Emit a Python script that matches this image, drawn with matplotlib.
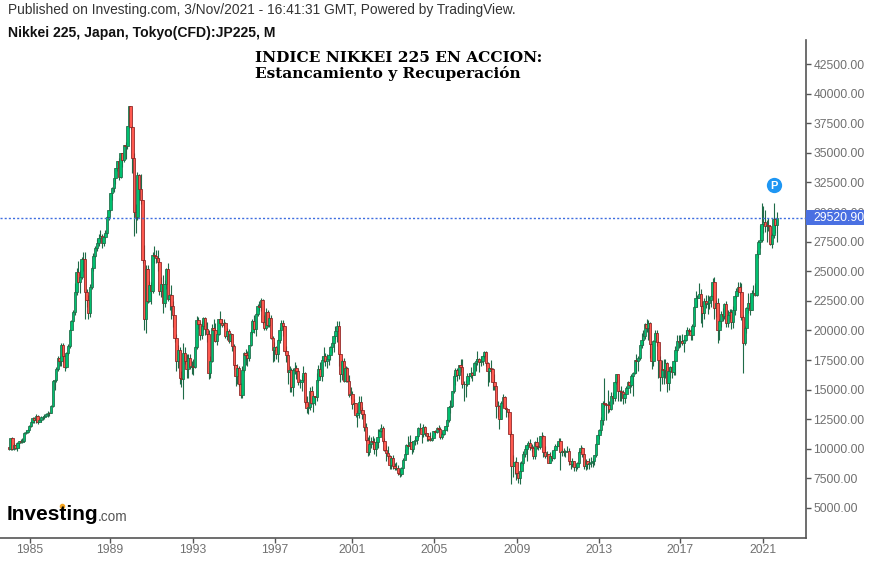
import matplotlib
matplotlib.use('Agg')
import matplotlib.pyplot as plt
from matplotlib.patches import Rectangle
from matplotlib.transforms import blended_transform_factory

# monthly candles, Jan 1984 to Nov 2021
opens = [
    10120,9950,10950,9950,10350,10050,10500,10650,10600,10650,11350,11450,
    11550,11930,12290,12570,12430,12800,12240,12450,12650,12700,12800,12950,
    13050,13020,13640,15750,15800,16750,17670,17400,18770,17850,16900,18050,
    18700,20030,20800,21550,23250,24950,24100,24480,26030,26010,23270,22570,
    21490,23690,25270,26300,27000,27420,27770,28000,27370,27920,28200,29580,
    30160,31580,31990,32840,33710,34270,32950,34950,34430,35640,35550,37270,
    38920,37190,34590,29980,29580,33130,31940,31040,25980,20980,25190,22450,
    23850,23290,26410,26290,26110,25790,23290,23900,22340,23920,25220,22690,
    22980,22020,21340,19350,17390,18350,15950,15910,18060,17400,16770,17680,
    16920,17020,16950,18590,20920,20550,19590,20380,21030,20110,19700,16410,
    17420,20230,20000,19110,19730,20970,20640,20450,20630,19560,19990,19080,
    19720,18650,17050,16140,16810,15440,14520,16680,18120,17910,17660,18740,
    19870,20810,20130,21410,22040,21960,22530,20690,20170,21560,20470,21020,
    19360,18330,18560,18000,19150,20070,20610,20330,18230,17890,16460,16640,
    15260,16630,16830,16530,15640,15670,15830,16380,13920,13410,13560,14880,
    13840,14500,14370,15840,16700,16110,17530,17860,17440,17610,17940,18560,
    18930,19540,19960,20340,17970,16330,17410,15730,16860,15750,14540,14650,
    13790,13840,12880,13000,13930,13260,12970,11860,10710,9770,10370,10700,
    10540,10000,10590,11020,11490,11760,10620,9880,9620,9380,8640,9220,
    8580,8340,8360,7970,7830,8420,9080,9560,10340,10220,10560,9990,
    10680,10780,11040,11720,11760,11240,11860,11330,11080,10820,10770,10900,
    11490,11390,11740,11670,11010,11280,11580,11900,12410,13570,13610,14870,
    16110,16650,16210,17060,16910,15470,15510,15460,16140,16130,16400,16270,
    17230,17380,17600,17290,17400,17880,18140,17250,16570,16790,16740,15680,
    15310,13590,13600,12530,13850,14340,13480,13380,13070,11260,8580,8510,
    8860,7990,7570,8110,8830,9520,9960,10360,10490,10130,10040,9350,
    10550,10200,10130,11090,11060,9770,9380,9540,8820,9370,9200,9940,
    10230,10240,10620,9760,9850,9690,9820,9830,8960,8700,8990,8430,
    8460,8800,9720,10080,9520,8540,9010,8700,8840,8870,8930,9450,
    10400,11140,11560,12400,13860,13770,13680,13670,13390,14460,14330,15660,
    16290,14910,14840,14830,14300,14630,15160,15620,15420,16170,16410,17460,
    17450,17670,18800,19210,19520,20560,20240,20590,18890,17390,19080,19750,
    19030,17520,16030,16760,16670,17240,15580,16570,16890,16450,17430,18310,
    19110,19040,19120,18910,19200,19650,20030,19930,19650,20360,22010,22730,
    22770,23100,22070,21450,22470,22200,22310,22550,22870,24120,21920,22350,
    20020,20770,21390,21210,22260,20600,21280,21520,20700,21760,22930,23290,
    23660,23210,21140,18920,20190,21880,22290,21710,23140,23190,22980,26430,
    27440,27660,28970,29180,28810,28860,28790,27280,28090,29450,28890,
]
closes = [
    10020,10900,9950,10350,10050,10500,10650,10600,10650,11350,11450,11550,
    11930,12290,12570,12430,12800,12240,12450,12650,12700,12800,12950,13050,
    13020,13640,15750,15800,16750,17670,17400,18770,17850,16900,18050,18700,
    20030,20800,21550,23250,24950,24100,24480,26030,26010,23270,22570,21490,
    23690,25270,26300,27000,27420,27770,28000,27370,27920,28200,29580,30160,
    31580,31990,32840,33710,34270,32950,34950,34430,35640,35550,37270,38920,
    37190,34590,29980,29580,33130,31940,31040,25980,20980,25190,22450,23850,
    23290,26410,26290,26110,25790,23290,23900,22340,23920,25220,22690,22980,
    22020,21340,19350,17390,18350,15950,15910,18060,17400,16770,17680,16920,
    17020,16950,18590,20920,20550,19590,20380,21030,20110,19700,16410,17420,
    20230,20000,19110,19730,20970,20640,20450,20630,19560,19990,19080,19720,
    18650,17050,16140,16810,15440,14520,16680,18120,17910,17660,18740,19870,
    20810,20130,21410,22040,21960,22530,20690,20170,21560,20470,21020,19360,
    18330,18560,18000,19150,20070,20610,20330,18230,17890,16460,16640,15260,
    16630,16830,16530,15640,15670,15830,16380,13920,13410,13560,14880,13840,
    14500,14370,15840,16700,16110,17530,17860,17440,17610,17940,18560,18930,
    19540,19960,20340,17970,16330,17410,15730,16860,15750,14540,14650,13790,
    13840,12880,13000,13930,13260,12970,11860,10710,9770,10370,10700,10540,
    10000,10590,11020,11490,11760,10620,9880,9620,9380,8640,9220,8580,
    8340,8360,7970,7830,8420,9080,9560,10340,10220,10560,9990,10680,
    10780,11040,11720,11760,11240,11860,11330,11080,10820,10770,10900,11490,
    11390,11740,11670,11010,11280,11580,11900,12410,13570,13610,14870,16110,
    16650,16210,17060,16910,15470,15510,15460,16140,16130,16400,16270,17230,
    17380,17600,17290,17400,17880,18140,17250,16570,16790,16740,15680,15310,
    13590,13600,12530,13850,14340,13480,13380,13070,11260,8580,8510,8860,
    7990,7570,8110,8830,9520,9960,10360,10490,10130,10040,9350,10550,
    10200,10130,11090,11060,9770,9380,9540,8820,9370,9200,9940,10230,
    10240,10620,9760,9850,9690,9820,9830,8960,8700,8990,8430,8460,
    8800,9720,10080,9520,8540,9010,8700,8840,8870,8930,9450,10400,
    11140,11560,12400,13860,13770,13680,13670,13390,14460,14330,15660,16290,
    14910,14840,14830,14300,14630,15160,15620,15420,16170,16410,17460,17450,
    17670,18800,19210,19520,20560,20240,20590,18890,17390,19080,19750,19030,
    17520,16030,16760,16670,17240,15580,16570,16890,16450,17430,18310,19110,
    19040,19120,18910,19200,19650,20030,19930,19650,20360,22010,22730,22770,
    23100,22070,21450,22470,22200,22310,22550,22870,24120,21920,22350,20020,
    20770,21390,21210,22260,20600,21280,21520,20700,21760,22930,23290,23660,
    23210,21140,18920,20190,21880,22290,21710,23140,23190,22980,26430,27440,
    27660,28970,29180,28810,28860,28790,27280,28090,29450,28890,29520,
]
highs = [
    10180,10950,11000,10450,10400,10600,10700,10800,10900,11400,11600,11650,
    12000,12350,12650,12700,12900,12850,12600,12780,12800,12900,13000,13200,
    13150,13700,15850,15900,16900,17800,17800,18900,18950,17900,18200,18850,
    20100,20900,21700,24000,25300,25900,25100,26200,26650,26650,23500,23000,
    23900,25400,26500,27100,27700,28100,28500,28100,28100,28500,29700,30200,
    31600,32100,32900,33750,34300,34600,35000,35000,35700,35900,37300,38960,
    38800,37300,35000,30700,33350,33200,33200,31000,27200,25500,25500,24200,
    24100,26650,27150,26800,26800,26100,24500,24700,24250,25300,25700,23100,
    23800,22500,21200,19700,18800,18600,16600,18900,18600,18000,18000,18000,
    17400,17600,18700,21200,21100,20600,20800,21150,21150,20700,20000,17800,
    20500,20950,20600,20000,21000,21600,21000,21000,20700,20200,20100,19800,
    19700,18850,17100,17200,17000,15550,17000,18200,18400,18300,18800,20020,
    20950,21300,21500,22200,22500,22750,22650,21300,21900,21700,21400,21300,
    19500,19000,18700,19300,20300,20900,20900,20400,18700,17900,17000,16800,
    16800,17300,17100,16700,15900,16200,17000,16500,14500,13900,15200,15300,
    14700,14500,16400,17100,17300,17800,18600,18100,18000,18000,18700,19000,
    19600,20400,20800,20800,18000,17600,17700,17000,16900,16200,15200,14900,
    14200,13900,13300,14500,14500,13500,13000,12200,11000,11200,11000,11100,
    10900,10700,11700,11700,12100,11900,10900,10300,10200,9500,9350,9450,
    8800,8900,8600,8300,8500,9200,10000,10400,11100,11200,10700,10700,
    11000,11100,11800,12200,11600,12100,11900,11300,11300,11400,11200,11500,
    11600,11800,12000,11800,11400,11700,11900,12500,13600,14100,14900,16400,
    16800,16800,17100,17600,17600,15700,15800,16400,16400,16900,16500,17300,
    17600,18300,17700,17800,17900,18300,18300,17300,16900,17500,16800,16300,
    15300,14000,13700,14000,14600,14500,13600,13400,13000,11500,9500,9000,
    9300,8000,8900,9000,9800,10200,10400,10700,10800,10400,10200,10700,
    10980,10300,11100,11400,11200,10250,9800,9600,9700,9800,10100,10400,
    10500,10900,10900,10000,10100,9900,10200,10100,9000,9200,9000,8700,
    8900,9900,10300,10150,9600,9100,9000,9250,9300,9200,9500,10450,
    11250,11700,12650,14000,15950,13900,14950,14000,14800,14800,15700,16350,
    16200,15000,15300,15000,14700,15300,15700,15800,16350,16500,17500,18000,
    17850,18800,19780,20000,20600,20950,20900,20700,18800,19200,20000,20000,
    19100,17800,17500,17600,17600,17300,16900,17000,17000,17500,18700,19600,
    19600,19600,19700,19300,20000,20300,20200,20100,20500,22100,23300,23000,
    24000,23500,22500,22700,23000,23000,22900,23000,24400,24500,22600,22700,
    21000,21600,21900,22350,22500,21700,21800,21800,22100,23000,23600,24100,
    24100,24000,21300,20400,22000,23200,22900,23400,23800,24000,26800,27600,
    28900,30800,30500,30200,29300,29500,28900,28200,30800,29500,30000,
]
lows = [
    9900,9900,9900,9900,9950,9800,10100,10500,10500,10600,11250,11300,
    11500,11800,12200,12200,12200,12100,12250,12300,12400,12500,12800,12700,
    12800,13000,13500,15000,15600,16600,17000,17000,17300,16600,16800,17900,
    18500,20000,20700,21300,23000,24000,23200,24300,25000,21000,22000,21000,
    21100,23500,25000,26200,26700,27100,27500,27000,27100,27800,28100,29300,
    30000,31000,31700,32400,33500,32700,32900,33800,34200,34500,35300,37100,
    37000,33300,28000,28200,29300,31000,30700,25700,20000,19800,22300,22400,
    22200,23200,25700,25700,25000,23000,22800,21500,22000,23500,22500,21700,
    21000,20300,19000,16600,16800,15500,15200,14200,17200,16000,16000,16700,
    16300,16200,16800,18400,20100,19200,19300,20000,19600,19000,15900,16000,
    17300,19100,19000,18800,19600,20300,20300,20300,19400,19200,18900,19000,
    18300,16700,15300,15500,15300,14300,14300,16500,17100,17000,17400,18700,
    19700,19800,19500,21200,21600,21600,20500,20000,20000,20300,20300,19300,
    17300,17400,17600,17300,18900,20100,19500,18100,17300,15500,14800,14800,
    14500,16300,15900,15400,15100,14900,15600,13800,13000,12900,13300,13800,
    13100,13700,14000,15600,16000,15700,17300,17000,16800,17100,17500,18100,
    18200,19300,19000,17000,15600,15800,15600,15600,15600,14400,14200,13400,
    13000,12700,11800,12600,13000,12500,11500,10700,9400,9500,10100,10000,
    9600,9400,10100,11000,11400,10500,9800,9000,9100,8300,8300,8300,
    8200,8200,7800,7600,7700,8400,9100,9500,10000,10000,9600,9700,
    10300,10400,10900,11600,10500,11000,11100,10700,10700,10700,10700,10900,
    11200,11300,11500,10800,10800,11200,11500,11500,12300,13000,13500,14700,
    15400,15700,15900,16500,15100,14000,14400,15300,15700,16000,15700,16200,
    16600,17100,16500,17000,17100,17700,17000,15300,15600,16400,15000,15000,
    12600,12700,11700,12500,13500,13400,12700,12700,11000,6990,7600,7900,
    7400,7100,7000,8000,8600,9300,9000,10100,9900,9700,9100,9100,
    10000,9900,10000,10800,9300,9200,9100,8800,8800,9000,9100,9900,
    10100,10200,8200,9400,9400,9300,9700,8600,8300,8500,8100,8100,
    8300,8700,9700,9300,8300,8200,8300,8300,8500,8500,8600,9300,
    10400,10800,11300,12000,13500,12400,13000,13100,13300,13800,14000,15500,
    14000,14000,14000,13800,13900,14700,15200,14700,15200,14500,16300,16400,
    16600,17500,18500,18800,19300,19900,19200,17700,16700,17000,19000,18700,
    16000,14900,15500,15500,16000,14800,15000,16000,16000,16200,16200,18200,
    18500,18600,18800,18200,19100,19600,19700,19200,19200,20300,22000,22000,
    22800,20600,20300,21000,21900,21400,21800,22000,22500,21000,21100,18900,
    19200,20300,20800,21000,20300,20300,21000,20100,20200,21300,22700,23000,
    23100,20900,16400,18800,19800,21500,21300,21700,22800,22900,22900,26100,
    27000,27500,28200,28300,27500,28400,27200,26950,27800,28200,27500,
]
# x is months counted from Jan 1985, first candle is Jan 1984
months = list(range(-12, len(closes) - 12))

year_ticks = [0.5, 47.8, 96.8, 145.3, 190.8, 239.3, 288.3, 336.8, 384.7, 433.8]
year_labels = ['1985', '1989', '1993', '1997', '2001', '2005', '2009', '2013', '2017', '2021']
price_ticks = [5000, 7500, 10000, 12500, 15000, 17500, 20000, 22500, 25000, 27500,
               30000, 32500, 35000, 37500, 40000, 42500]
last_price = 29520.90

UP = '#00c070'
DOWN = '#ff5a50'
UP_EDGE = '#1f6b48'
DOWN_EDGE = '#8a2020'
AXIS = '#555555'
TICK_TEXT = '#707070'
BLUE = '#3f6ee0'

W, H = 870, 561
fig = plt.figure(figsize=(W / 100, H / 100), dpi=100)
ax = fig.add_axes([0, (H - 537.5) / H, 806.5 / W, (537.5 - 40) / H])
ax.set_xlim(-17.26, 459.5)
ax.set_ylim(5000 - 29.5 * 84.46, 5000 + 468 * 84.46)

# wicks first, then bodies on top
ax.vlines(months, lows, highs, color=UP_EDGE, lw=0.8, zorder=2)
for m, o, c in zip(months, opens, closes):
    up = c >= o
    ax.bar(m, abs(c - o), bottom=min(o, c), width=1.45,
           color=UP if up else DOWN, edgecolor=UP_EDGE if up else DOWN_EDGE,
           linewidth=0.55, zorder=3)

ax.axhline(last_price, color=BLUE, lw=1, ls=(0, (1.5, 1.5)), zorder=4)

ax.spines['top'].set_visible(False)
ax.spines['left'].set_visible(False)
for side in ['right', 'bottom']:
    ax.spines[side].set_color(AXIS)
    ax.spines[side].set_linewidth(1.2)

ax.yaxis.tick_right()
ax.set_yticks(price_ticks)
ax.set_yticklabels(['%.2f' % p for p in price_ticks], family='Liberation Sans', fontsize=8.7, color=TICK_TEXT)
ax.set_xticks(year_ticks)
ax.set_xticklabels(year_labels, family='Liberation Sans', fontsize=8.7, color=TICK_TEXT)
ax.tick_params(axis='y', length=3.6, width=1, color=AXIS, pad=1.5)
ax.tick_params(axis='x', length=3.6, width=1, color=AXIS, pad=1)

# last price tag on the axis
tag_trans = blended_transform_factory(ax.transAxes, ax.transData)
ax.add_patch(Rectangle((1, last_price - 640), 0.0707, 1280, transform=tag_trans, clip_on=False,
                       fc='#4a70e2', ec='none', zorder=6))
ax.text(1.0087, last_price, '%.2f' % last_price, transform=tag_trans, va='center', ha='left',
        family='Liberation Sans', fontsize=8.7, color='white', zorder=7)

# published marker
ax.plot([440.3], [32281], 'o', ms=11, mew=0, color='#1e96f3', zorder=5)
ax.text(440.3, 32220, 'P', color='white', fontsize=8, fontweight='bold', ha='center', va='center',
        family='Liberation Sans', zorder=6)


def put(x, y, s, **kw):
    return fig.text(x / W, 1 - y / H, s, **kw)


put(8, 10, 'Published on Investing.com, 3/Nov/2021 - 16:41:31 GMT, Powered by TradingView.',
    family='Liberation Sans', fontsize=9.9, color='#333333', va='center')
put(8, 33, 'Nikkei 225, Japan, Tokyo(CFD):JP225, M', family='Liberation Sans', fontsize=10.05,
    fontweight='bold', color='#111111', va='center')
put(255, 58, 'INDICE NIKKEI 225 EN ACCION:', family='DejaVu Serif', fontsize=11.1, fontweight='bold',
    color='black', va='center')
put(255, 74, 'Estancamiento y Recuperación', family='DejaVu Serif', fontsize=11.1, fontweight='bold',
    color='black', va='center')

# logo
put(7, 515, 'Investing', family='Liberation Sans', fontsize=15, fontweight='bold', color='black', va='center')
put(98, 517, '.com', family='Liberation Sans', fontsize=9.8, color='#555555', va='center')
fig.add_artist(plt.Line2D([62 / W], [1 - 506 / H], marker='o', ms=3, color='#f5a623'))

fig.savefig('out.png', dpi=100)
